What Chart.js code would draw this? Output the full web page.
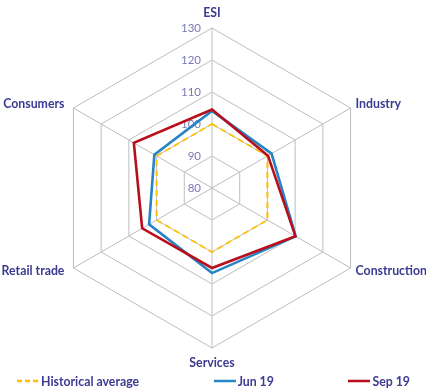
<!DOCTYPE html>
<html>
<head>
<meta charset="utf-8">
<script src="https://cdn.jsdelivr.net/npm/chart.js@4.4.1/dist/chart.umd.min.js"></script>
<style>
  html, body { margin: 0; padding: 0; background: #fff; }
  #wrap { position: relative; width: 426px; height: 389px; }
  #legend {
    position: absolute; left: 17px; right: 16px; top: 373px; height: 16px;
    display: flex; justify-content: space-between; align-items: center;
    font: bold 12.3px Lato, sans-serif; color: #3c3a92;
  }
  .item { display: flex; align-items: center; white-space: nowrap; }
  .item svg { margin-right: 2px; }
</style>
</head>
<body>
<div id="wrap">
  <canvas id="radar"></canvas>
  <div id="legend"></div>
</div>
<script>
const AXES = ["ESI", "Industry", "Construction", "Services", "Retail trade", "Consumers"];
const HIST_AVG = [100, 100, 100, 100, 100, 100];
const JUN_19 = [104.1, 101.5, 110.2, 106.6, 102.7, 100.8];
const SEP_19 = [104.5, 100.2, 110.1, 105.0, 105.2, 108.2];
const TICKS = [80, 90, 100, 110, 120, 130];

const LABEL_COLOR = "#3c3a92";
const TICK_COLOR = "#7b79b8";
const GRID = "#bdbdbd";

const series = [
  { label: "Historical average", data: HIST_AVG, color: "#ffc000", dash: [6, 4], width: 2, order: 3 },
  { label: "Jun 19", data: JUN_19, color: "#2785c6", dash: [], width: 2.6, order: 2 },
  { label: "Sep 19", data: SEP_19, color: "#b80d1a", dash: [], width: 2.6, order: 1 },
];

// axis names and value labels drawn beside the ESI axis, excel-style
const radarText = {
  id: "radarText",
  beforeDatasetsDraw(chart) {
    const s = chart.scales.r;
    const ctx = chart.ctx;
    ctx.save();
    ctx.font = "11.5px Lato, sans-serif";
    ctx.fillStyle = TICK_COLOR;
    ctx.textAlign = "right";
    ctx.textBaseline = "middle";
    TICKS.forEach(v => {
      const d = s.getDistanceFromCenterForValue(v);
      ctx.fillText(String(v), s.xCenter - 11, s.yCenter - d);
    });
    ctx.restore();
  },
  afterDraw(chart) {
    const s = chart.scales.r;
    const ctx = chart.ctx;
    ctx.save();
    ctx.font = "bold 12.3px Lato, sans-serif";
    ctx.fillStyle = LABEL_COLOR;
    ctx.textBaseline = "middle";
    AXES.forEach((name, i) => {
      const p = s.getPointPosition(i, s.drawingArea);
      const dx = p.x - s.xCenter;
      const dy = p.y - s.yCenter;
      let x = p.x, y = p.y;
      if (Math.abs(dx) < 1) {
        ctx.textAlign = "center";
        y += dy < 0 ? -15 : 15;
      } else if (dx > 0) {
        ctx.textAlign = "left";
        x += 5;
        y += dy < 0 ? -3.5 : 3.5;
      } else {
        ctx.textAlign = "right";
        x -= 9;
        y += dy < 0 ? -3.5 : 3.5;
      }
      ctx.fillText(name, x, y);
    });
    ctx.restore();
  }
};

new Chart(document.getElementById("radar"), {
  type: "radar",
  data: {
    labels: AXES,
    datasets: series.map(d => ({
      label: d.label,
      data: d.data,
      borderColor: d.color,
      backgroundColor: "transparent",
      borderWidth: d.width,
      borderDash: d.dash,
      borderJoinStyle: "miter",
      fill: false,
      pointRadius: 0,
      pointHoverRadius: 0,
      tension: 0,
      order: d.order,
    }))
  },
  options: {
    responsive: true,
    maintainAspectRatio: false,
    animation: false,
    devicePixelRatio: 1,
    layout: { padding: { top: 28, bottom: 41, left: 0, right: 2 } },
    plugins: { legend: { display: false }, tooltip: { enabled: false } },
    scales: {
      r: {
        min: 80,
        max: 130,
        ticks: { stepSize: 10, display: false },
        pointLabels: { display: false },
        grid: { color: GRID, lineWidth: 1 },
        angleLines: { color: GRID, lineWidth: 1 },
      }
    }
  },
  plugins: [radarText]
});

// legend row under the chart
const legend = document.getElementById("legend");
series.forEach(d => {
  const el = document.createElement("span");
  el.className = "item";
  const dash = d.dash.length ? `stroke-dasharray="5 3"` : "";
  el.innerHTML = `<svg width="22" height="6"><line x1="0" y1="3" x2="22" y2="3" stroke="${d.color}" stroke-width="2.5" ${dash}/></svg>${d.label}`;
  legend.appendChild(el);
});
</script>
</body>
</html>
